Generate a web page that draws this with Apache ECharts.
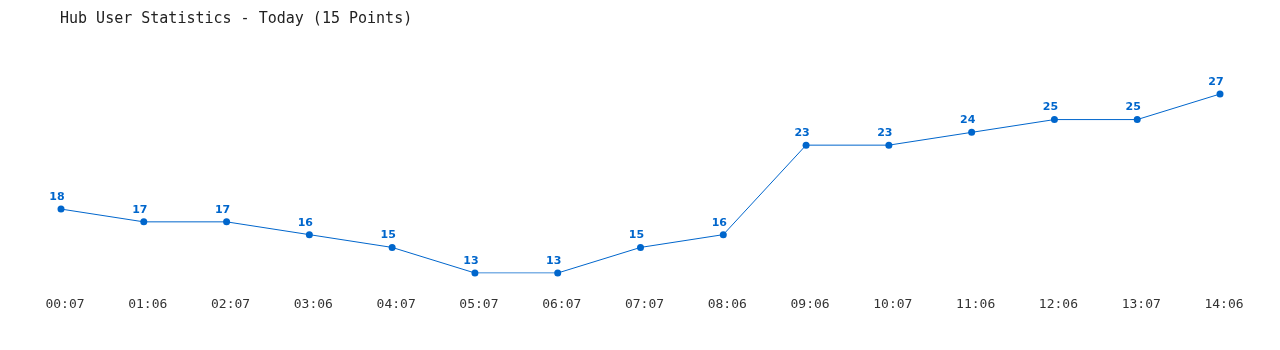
<!DOCTYPE html>
<html><head><meta charset="utf-8">
<script src="https://cdn.jsdelivr.net/npm/echarts@6/dist/echarts.min.js"></script>
<style>html,body{margin:0;padding:0;background:#fff}#c{width:1280px;height:350px}</style>
</head><body><div id="c"></div>
<script>
const categories = ["00:07","01:06","02:07","03:06","04:07","05:07","06:07","07:07","08:06","09:06","10:07","11:06","12:06","13:07","14:06"];
const users = [18,17,17,16,15,13,13,15,16,23,23,24,25,25,27];
const titleText = "Hub User Statistics - Today (15 Points)";

const chart = echarts.init(document.getElementById('c'), null, {renderer:'canvas'});
chart.setOption({
  animation: false,
  backgroundColor: '#ffffff',
  title: {
    text: titleText, left: 55, top: 7,
    textStyle: {fontFamily: 'DejaVu Sans Mono', fontSize: 15, fontWeight: 'normal', color: '#222'}
  },
  grid: {left: 61, right: 60, top: 94, bottom: 77},
  xAxis: {
    type: 'category', data: categories, boundaryGap: false,
    axisLine: {show: false}, axisTick: {show: false}, splitLine: {show: false},
    axisLabel: {margin: 25, padding: [0, 0, 0, 8], fontFamily: 'DejaVu Sans Mono', fontSize: 13, color: '#333'}
  },
  yAxis: {type: 'value', min: 13, max: 27, show: false, splitLine: {show: false}},
  series: [{
    type: 'line', data: users,
    symbol: 'circle', symbolSize: 7,
    lineStyle: {color: '#0066cc', width: 1},
    itemStyle: {color: '#0066cc'},
    label: {show: true, position: 'top', distance: 3, offset: [-4, 0], color: '#0066cc',
      fontFamily: 'DejaVu Sans', fontWeight: 'bold', fontSize: 11}
  }]
});
</script></body></html>
